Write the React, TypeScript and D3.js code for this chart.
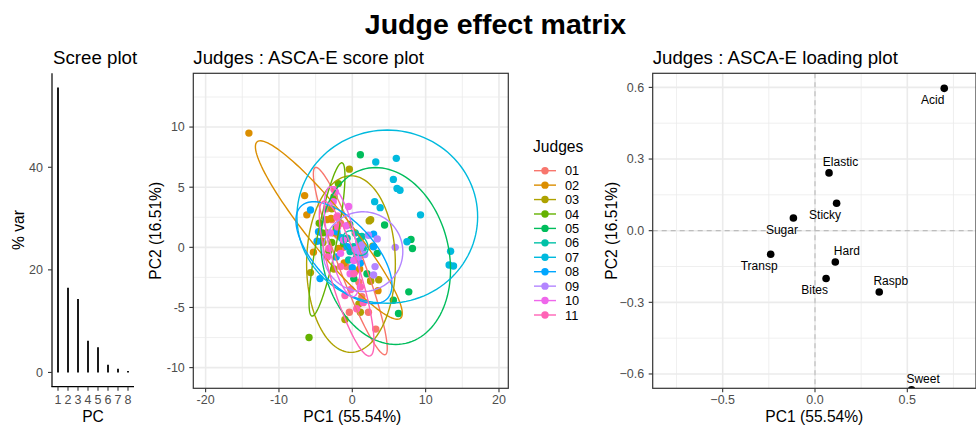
import React from "react";
import * as d3 from "d3";

// ---------- Scree plot data ----------
const screePCs = ["1", "2", "3", "4", "5", "6", "7", "8"];
const screeVar = [55.54, 16.51, 14.3, 6.2, 4.9, 1.5, 0.7, 0.3];
const screeTicks = [0, 20, 40];

// ---------- Score plot data (PC1, PC2) per judge ----------
const judges = ["01", "02", "03", "04", "05", "06", "07", "08", "09", "10", "11"];
const judgeColors = [
  "#F8766D", "#DB8E00", "#AEA200", "#64B200", "#00BD5C", "#00C1A7",
  "#00BADE", "#00A6FF", "#B385FF", "#EF67EB", "#FF63B6",
];

const scoresJ01: [number, number][] = [
  [-3.5, 3.2], [-2.8, 2.3], [-1.6, 2.0], [-1.2, 0.0], [0.4, -2.0], [1.3, -4.1],
  [2.2, -5.4], [-0.4, -5.4], [3.2, -6.8], [-2.0, 1.0], [0.9, -2.9], [-0.8, -1.6],
];
const scoresJ02: [number, number][] = [
  [-14.1, 9.5], [-6.5, 4.3], [-6.2, 2.7], [-3.5, 2.3], [-5.3, -0.4], [-1.9, -0.1],
  [2.5, -2.8], [-2.5, 1.2], [-4.1, 0.5], [-1.1, -1.3], [3.5, -3.6], [-2.9, 2.4], [1.0, -1.8],
];
const scoresJ03: [number, number][] = [
  [-0.4, 6.5], [2.3, 2.2], [2.5, 2.3], [-2.5, -1.8], [3.6, -2.7], [-1.0, -6.0],
  [1.1, -5.4], [0.9, -4.7], [2.8, 0.1], [2.5, -2.8], [-4.0, 0.4], [-5.7, -2.1], [-2.8, 3.2],
];
const scoresJ04: [number, number][] = [
  [-1.9, 5.3], [-5.9, -7.5], [-3.5, 1.2], [-2.8, 0.4], [-4.1, 1.2], [-2.5, 4.2],
  [-1.2, 0.3], [-3.2, -0.3], [-4.5, 2.0], [-2.2, 1.6],
];
const scoresJ05: [number, number][] = [
  [1.1, 7.7], [4.4, 1.86], [-0.36, 1.9], [8.0, 0.66], [8.2, -0.1], [3.4, -0.5],
  [7.7, -3.7], [5.6, -4.4], [6.3, -5.5], [0.2, -2.6], [2.0, -2.2], [0.5, -1.0],
];
const scoresJ06: [number, number][] = [
  [-0.7, 0.75], [0.2, 0.05], [0.9, 0.5], [-0.3, -0.35], [1.5, -0.1], [-1.2, 0.5],
  [0.6, -0.8], [1.3, 0.9], [-0.5, -1.05], [0.4, 1.2],
];
const scoresJ07: [number, number][] = [
  [3.2, 7.1], [6.0, 7.4], [5.6, 5.65], [6.1, 4.9], [6.5, 4.75], [3.05, 3.8],
  [3.8, 3.3], [9.3, 2.7], [13.4, -0.33], [13.2, -1.47], [13.8, -1.55], [7.45, 0.47], [-1.5, 0.8],
];
const scoresJ08: [number, number][] = [
  [-5.7, 3.1], [-4.4, -2.6], [0.0, -1.7], [-2.2, -0.8], [2.9, 1.1], [-4.8, 0.5],
  [1.1, -1.3], [-0.7, 0.05], [-2.1, 1.3], [2.9, 0.05], [-4.6, 1.3],
];
const scoresJ09: [number, number][] = [
  [5.85, 0.0], [3.4, 0.7], [1.1, -0.1], [0.6, -0.5], [1.3, 0.2], [3.1, -1.6],
  [2.9, -2.3], [0.9, -0.8], [0.4, -0.2], [1.7, -0.6], [2.2, 1.0],
];
const scoresJ10: [number, number][] = [
  [-2.3, 4.6], [-0.5, 3.4], [-3.0, 1.2], [-1.2, 0.6], [-1.6, -0.5], [0.2, -1.1],
  [-2.0, 2.6], [-0.8, 1.8], [-0.3, -2.2], [-2.6, 3.8],
];
const scoresJ11: [number, number][] = [
  [-2.5, 4.8], [-2.1, 2.5], [-2.0, 1.7], [-3.2, -0.1], [-0.2, -3.5], [1.1, -3.3],
  [0.6, -5.1], [1.5, -4.6], [-1.0, -4.0], [-1.6, -1.6], [0.2, -2.2], [-3.4, -0.8],
];
const judgeScores = [
  scoresJ01, scoresJ02, scoresJ03, scoresJ04, scoresJ05, scoresJ06,
  scoresJ07, scoresJ08, scoresJ09, scoresJ10, scoresJ11,
];

// Confidence ellipses per judge: centre and two conjugate half-axes (PC units)
const ellipseCx = [-0.27, -3.2, -0.18, -3.45, 4.55, 0.45, 4.77, -1.14, 1.45, -1.41, -0.77];
const ellipseCy = [-1.14, 1.44, -1.39, 0.66, -0.72, 0.35, 2.55, -0.44, -0.36, 0.47, -2.6];
const ellipseAx = [4.77, 9.77, 0.0, 2.05, 2.73, 1.6, 12.32, 5.82, 5.36, 1.59, 3.18];
const ellipseAy = [-7.78, -7.34, -7.34, 6.37, -7.26, -0.7, 0.0, -3.88, -0.55, -4.57, -6.43];
const ellipseBx = [1.62, 2.19, 6.05, 1.34, 8.41, -0.6, 0.0, 3.0, 0.91, 1.82, 1.95];
const ellipseBy = [0.37, 1.08, 0.0, -0.16, 1.16, -0.75, -7.2, 1.69, 3.27, 0.25, 0.36];

const scoreXTicks = [-20, -10, 0, 10, 20];
const scoreXMinor = [-15, -5, 5, 15];
const scoreYTicks = [-10, -5, 0, 5, 10];
const scoreYMinor = [-7.5, -2.5, 2.5, 7.5, 12.5];

// ---------- Loading plot data ----------
const loadingVars = ["Acid", "Elastic", "Sticky", "Sugar", "Transp", "Hard", "Bites", "Raspb", "Sweet"];
const loadingPC1 = [0.7, 0.076, 0.117, -0.117, -0.24, 0.11, 0.06, 0.348, 0.523];
const loadingPC2 = [0.596, 0.242, 0.115, 0.053, -0.099, -0.131, -0.2, -0.257, -0.666];
const loadingLabelSide = ["sw", "ne", "sw", "sw", "sw", "ne", "sw", "ne", "ne"];

const loadXTicks = [-0.5, 0, 0.5];
const loadXMinor = [-0.75, -0.25, 0.25, 0.75];
const loadYTicks = [-0.6, -0.3, 0, 0.3, 0.6];
const loadYMinor = [-0.45, -0.15, 0.15, 0.45];

const FONT = "'Liberation Sans', Arial, Helvetica, sans-serif";
const TICK_COLOR = "#4D4D4D";
const GRID = "#EBEBEB";

function fmt1(v: number) {
  return d3.format(".1f")(v);
}

function Panel({
  x0, x1, y0, y1, xScale, yScale, xTicks, xMinor, yTicks, yMinor, xFmt, yFmt, clipId, children,
}: any) {
  return (
    <g>
      <defs>
        <clipPath id={clipId}>
          <rect x={x0} y={y0} width={x1 - x0} height={y1 - y0} />
        </clipPath>
      </defs>
      <rect x={x0} y={y0} width={x1 - x0} height={y1 - y0} fill="#fff" />
      <g clipPath={`url(#${clipId})`}>
        {xMinor.map((t: number) => (
          <line key={"xm" + t} x1={xScale(t)} x2={xScale(t)} y1={y0} y2={y1} stroke={GRID} strokeWidth={0.8} />
        ))}
        {yMinor.map((t: number) => (
          <line key={"ym" + t} y1={yScale(t)} y2={yScale(t)} x1={x0} x2={x1} stroke={GRID} strokeWidth={0.8} />
        ))}
        {xTicks.map((t: number) => (
          <line key={"xM" + t} x1={xScale(t)} x2={xScale(t)} y1={y0} y2={y1} stroke={GRID} strokeWidth={1.6} />
        ))}
        {yTicks.map((t: number) => (
          <line key={"yM" + t} y1={yScale(t)} y2={yScale(t)} x1={x0} x2={x1} stroke={GRID} strokeWidth={1.6} />
        ))}
        {children}
      </g>
      <rect x={x0} y={y0} width={x1 - x0} height={y1 - y0} fill="none" stroke="#333333" strokeWidth={1.2} />
      {xTicks.map((t: number) => (
        <g key={"xt" + t}>
          <line x1={xScale(t)} x2={xScale(t)} y1={y1} y2={y1 + 4} stroke="#333333" strokeWidth={1.1} />
          <text x={xScale(t)} y={404} textAnchor="middle" fontSize={12.5} fill={TICK_COLOR}>
            {xFmt(t)}
          </text>
        </g>
      ))}
      {yTicks.map((t: number) => (
        <g key={"yt" + t}>
          <line x1={x0 - 4} x2={x0} y1={yScale(t)} y2={yScale(t)} stroke="#333333" strokeWidth={1.1} />
          <text x={x0 - 8.5} y={yScale(t)} dy="0.35em" textAnchor="end" fontSize={12.5} fill={TICK_COLOR}>
            {yFmt(t)}
          </text>
        </g>
      ))}
    </g>
  );
}

export default function App() {
  const W = 976;
  const H = 425;

  // Scree plot scales
  const sx = d3.scalePoint<string>().domain(screePCs).range([52, 134]).padding(0.6);
  const sy = d3.scaleLinear().domain([-2.777, 58.32]).range([386.7, 73.3]);

  // Score plot scales
  const scX0 = 193.3, scX1 = 508.3, pY0 = 73.3, pY1 = 388.3;
  const scx = d3.scaleLinear().domain([-21.68, 21.27]).range([scX0, scX1]);
  const scy = d3.scaleLinear().domain([-11.72, 14.47]).range([pY1, pY0]);

  // Loading plot scales
  const ldX0 = 652.7, ldX1 = 976;
  const lx = d3.scaleLinear().domain([-0.879, 0.872]).range([ldX0, ldX1]);
  const ly = d3.scaleLinear().domain([-0.66, 0.659]).range([pY1, pY0]);

  const ellipseLine = d3
    .line<[number, number]>()
    .x((d) => scx(d[0]))
    .y((d) => scy(d[1]))
    .curve(d3.curveLinearClosed);

  const ellipsePath = (i: number) => {
    const pts: [number, number][] = d3.range(0, 120).map((k) => {
      const t = (k / 120) * Math.PI * 2;
      return [
        ellipseCx[i] + ellipseAx[i] * Math.cos(t) + ellipseBx[i] * Math.sin(t),
        ellipseCy[i] + ellipseAy[i] * Math.cos(t) + ellipseBy[i] * Math.sin(t),
      ];
    });
    return ellipseLine(pts) || "";
  };

  const sideOffset: Record<string, [number, number]> = {
    sw: [-11.5, 11.5],
    ne: [11.5, -11],
  };

  const legendX = 533;
  const legendY0 = 170.7;
  const legendStep = 14.43;

  return (
    <svg width={W} height={H} style={{ position: "absolute", left: 0, top: 0, fontFamily: FONT }}>
      <rect x={0} y={0} width={W} height={H} fill="#fff" />
      <text x={495.5} y={34} textAnchor="middle" fontSize={28.5} fontWeight="bold" fill="#000">
        Judge effect matrix
      </text>

      {/* Scree plot */}
      <text x={53} y={63.5} fontSize={18.7} fill="#000">Scree plot</text>
      {screeVar.map((v, i) => (
        <line key={"bar" + i} x1={sx(screePCs[i])} x2={sx(screePCs[i])} y1={sy(0)} y2={sy(v)} stroke="#1a1a1a" strokeWidth={2} />
      ))}
      <line x1={52} x2={52} y1={73.3} y2={386.7} stroke="#000" strokeWidth={1.2} />
      <line x1={51.4} x2={134} y1={386.7} y2={386.7} stroke="#000" strokeWidth={1.2} />
      {screeTicks.map((t) => (
        <g key={"st" + t}>
          <line x1={48} x2={52} y1={sy(t)} y2={sy(t)} stroke="#333" strokeWidth={1.1} />
          <text x={43} y={sy(t)} dy="0.35em" textAnchor="end" fontSize={12.5} fill={TICK_COLOR}>{t}</text>
        </g>
      ))}
      {screePCs.map((p) => (
        <g key={"sp" + p}>
          <line x1={sx(p)} x2={sx(p)} y1={386.7} y2={390.7} stroke="#333" strokeWidth={1.1} />
          <text x={sx(p)} y={404} textAnchor="middle" fontSize={12.5} fill={TICK_COLOR}>{p}</text>
        </g>
      ))}
      <text x={93} y={422} textAnchor="middle" fontSize={15.6} fill="#000">PC</text>
      <text transform="translate(24,230) rotate(-90)" textAnchor="middle" fontSize={15.6} fill="#000">% var</text>

      {/* Score plot */}
      <text x={193.3} y={63.5} fontSize={18.7} fill="#000">Judges : ASCA-E score plot</text>
      <Panel
        x0={scX0} x1={scX1} y0={pY0} y1={pY1}
        xScale={scx} yScale={scy}
        xTicks={scoreXTicks} xMinor={scoreXMinor}
        yTicks={scoreYTicks} yMinor={scoreYMinor}
        xFmt={(t: number) => String(t)} yFmt={(t: number) => String(t)}
        clipId="clip-score"
      >
        {judgeScores.map((arr, j) =>
          arr.map((d, k) => (
            <circle key={`p${j}-${k}`} cx={scx(d[0])} cy={scy(d[1])} r={3.7} fill={judgeColors[j]} />
          ))
        )}
        {judges.map((_, j) => (
          <path key={"el" + j} d={ellipsePath(j)} fill="none" stroke={judgeColors[j]} strokeWidth={1.4} />
        ))}
      </Panel>
      <text x={scx(0)} y={422} textAnchor="middle" fontSize={15.6} fill="#000">PC1 (55.54%)</text>
      <text transform={`translate(161,${(pY0 + pY1) / 2}) rotate(-90)`} textAnchor="middle" fontSize={15.6} fill="#000">
        PC2 (16.51%)
      </text>

      {/* Legend */}
      <text x={legendX} y={151.5} fontSize={15.6} fill="#000">Judges</text>
      {judges.map((jd, j) => {
        const yy = legendY0 + j * legendStep;
        return (
          <g key={"lg" + jd}>
            <line x1={534} x2={556} y1={yy} y2={yy} stroke={judgeColors[j]} strokeWidth={1.4} />
            <circle cx={545} cy={yy} r={3.7} fill={judgeColors[j]} />
            <text x={565} y={yy} dy="0.36em" fontSize={12.8} fill="#000">{jd}</text>
          </g>
        );
      })}

      {/* Loading plot */}
      <text x={652.7} y={63.5} fontSize={18.7} fill="#000">Judges : ASCA-E loading plot</text>
      <Panel
        x0={ldX0} x1={ldX1} y0={pY0} y1={pY1}
        xScale={lx} yScale={ly}
        xTicks={loadXTicks} xMinor={loadXMinor}
        yTicks={loadYTicks} yMinor={loadYMinor}
        xFmt={fmt1} yFmt={fmt1}
        clipId="clip-load"
      >
        <line x1={lx(0)} x2={lx(0)} y1={pY0} y2={pY1} stroke="#BDBDBD" strokeWidth={1.2} strokeDasharray="5,4" />
        <line x1={ldX0} x2={ldX1} y1={ly(0)} y2={ly(0)} stroke="#BDBDBD" strokeWidth={1.2} strokeDasharray="5,4" />
        {loadingVars.map((v, i) => (
          <circle key={"lp" + v} cx={lx(loadingPC1[i])} cy={ly(loadingPC2[i])} r={3.8} fill="#000" />
        ))}
        {loadingVars.map((v, i) => {
          const off = sideOffset[loadingLabelSide[i]];
          return (
            <text
              key={"ll" + v}
              x={lx(loadingPC1[i]) + off[0]}
              y={ly(loadingPC2[i]) + off[1]}
              dy="0.35em"
              textAnchor="middle"
              fontSize={12}
              fill="#000"
            >
              {v}
            </text>
          );
        })}
      </Panel>
      <text x={(ldX0 + ldX1) / 2} y={422} textAnchor="middle" fontSize={15.6} fill="#000">PC1 (55.54%)</text>
      <text transform={`translate(617,${(pY0 + pY1) / 2}) rotate(-90)`} textAnchor="middle" fontSize={15.6} fill="#000">
        PC2 (16.51%)
      </text>
    </svg>
  );
}
